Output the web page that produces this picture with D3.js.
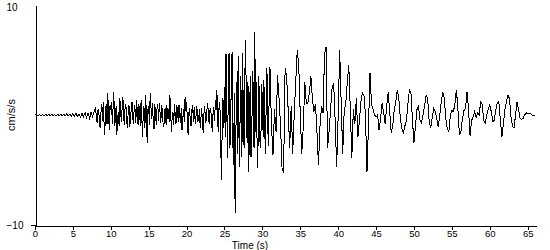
<!DOCTYPE html>
<html>
<head>
	<meta charset="utf-8">
	<title>Accelerogram</title>
	<script src="https://cdn.jsdelivr.net/npm/d3@7"></script>
	<style>
		body {
			margin: 0;
			background: #fff;
			font-family: "Liberation Sans", Arial, sans-serif;
		}
	</style>
</head>
<body>
	<div id="chart"></div>
	<script>

		// data: ground acceleration (cm/s/s), in three windows with their own sample step
		// pre-event noise, 0 - 8 s, every 0.2 s (one row = 1 s)
		const preStart = 0, preStep = 0.2;
		const preEvent = [
			0, 0.02, -0.02, 0.03, -0.03,
			0.02, -0.04, 0.03, -0.02, 0.04,
			-0.03, 0.05, -0.04, 0.03, -0.05,
			0.06, -0.05, 0.08, -0.06, 0.05,
			-0.08, 0.1, -0.07, 0.09, -0.1,
			0.12, -0.1, 0.15, -0.12, 0.1,
			-0.2, 0.18, -0.15, 0.22, -0.25,
			0.2, -0.3, 0.25, -0.15, 0.3
		];
		// strong shaking, 8 - 31 s, every 0.1 s (one row = 1 s)
		const strongStart = 8, strongStep = 0.1;
		const strongMotion = [
			0.7, -0.3, -0.7, 0.4, 0.5, -0.6, -1.2, 0.2, 1.0, -0.5,
			1.2, -0.6, -1.8, 0.3, 1.0, -0.8, 2.0, 0.2, -1.4, 0.9,
			0.5, 1.2, -0.8, 0.6, 2.1, -1.0, -0.5, 0.8, -1.8, -0.4,
			0.3, -1.0, 1.5, 0.2, -0.6, 0.7, 1.6, -0.3, -0.9, 1.0,
			0.8, -0.5, -1.2, 0.4, 0.9, -1.1, -0.4, 0.6, 1.2, -0.3,
			-0.8, 0.9, 0.5, -0.7, 1.4, 0.2, -0.9, 1.0, 0.3, -1.0,
			1.4, -0.4, -2.0, 0.8, 0.6, -1.2, 1.8, 0.0, -2.5, 0.5,
			0.8, -0.9, 2.0, 0.7, -0.4, 1.1, -0.6, -1.3, 1.0, 0.1,
			-0.9, 0.6, 1.0, -0.5, 1.1, 0.2, -0.7, 0.9, 0.4, -0.8,
			-1.1, 0.4, 0.6, -0.9, 0.9, -0.4, 0.5, -0.6, 1.8, 0.3,
			-1.5, -0.2, 0.3, -0.9, 1.0, 0.0, -0.8, 0.9, 0.4, -0.6,
			0.9, 0.0, -0.7, 0.6, -1.4, -0.3, 0.5, -0.6, 1.6, 0.4,
			1.2, -0.5, -1.8, 0.2, 0.6, -0.7, -1.0, 0.5, 0.9, -0.6,
			0.7, -0.3, -0.8, 0.8, 0.4, -0.6, -0.3, 0.5, -1.2, -0.2,
			0.6, -0.8, -1.6, 0.2, 0.8, -0.7, -0.5, 0.6, 1.1, -0.4,
			-0.8, 0.6, 0.5, -0.9, -1.5, 0.3, 0.7, -0.5, 1.4, 0.5,
			2.3, -0.8, -1.5, 1.2, 0.8, -2.5, -5.9, -1.0, 1.5, -1.2,
			2.5, -2.0, 5.5, 1.0, -3.9, 2.0, 5.6, -3.0, -2.0, 3.5,
			5.7, -2.5, -4.5, 2.0, -8.9, -2.0, 3.0, -3.5, 5.4, -1.5,
			-4.7, 3.5, 2.0, -3.8, 5.6, -2.0, -3.0, 4.0, 6.8, -1.0,
			-2.5, 3.0, -5.2, -1.0, 3.5, -3.8, -2.0, 4.0, 2.5, -3.0,
			7.5, -1.5, 3.0, -2.5, -4.8, 3.5, 2.0, -3.0, -2.5, 2.8,
			1.5, -2.0, 3.2, -1.0, -3.5, 1.0, 4.3, -1.0, -2.8, 2.0
		];
		// coda, 31 - 66 s, every 0.2 s (one row = 1 s)
		const codaStart = 31, codaStep = 0.2;
		const coda = [
			4.4, -1.0, -3.6, 0.5, -1.5,
			3.6, 1.5, -1.0, -5.0, -5.2,
			4.3, 3.5, 0.5, -3.0, 0.8,
			-3.5, 0.0, 3.0, 5.9, 4.5,
			0.0, -3.5, -1.0, 3.0, 1.0,
			1.1, 2.0, 3.5, 1.5, 0.3,
			1.0, -1.5, -4.5, -1.0, 0.8,
			0.2, 5.5, 6.2, -3.0, -1.5,
			0.5, 2.5, 2.9, -0.5, -4.7,
			0.0, 5.9, 1.0, -3.5, 0.5,
			1.0, 3.0, 4.5, 0.5, -3.9,
			0.5, -0.8, 1.5, -2.0, -0.5,
			1.2, 2.0, 1.8, 0.0, -5.2,
			-1.0, 3.8, 1.0, 0.5, 0.0,
			-0.2, 0.0, -1.4, -0.3, 1.1,
			0.2, -0.8, 0.8, 2.1, 0.3,
			-1.6, -1.0, 0.5, 1.2, 2.3,
			1.5, -0.3, -1.2, -1.6, -1.0,
			-0.5, 1.0, 2.3, 2.0, -0.5,
			-2.5, -1.0, 0.5, 0.8, -0.5,
			-0.7, 0.0, 0.8, 1.8, 1.5,
			-0.5, -1.2, -0.3, 0.6, 0.3,
			-0.3, -1.1, 0.0, 1.2, 2.1,
			1.5, -0.3, -1.3, -1.5, 0.0,
			0.4, 0.3, 1.0, 2.3, 0.5,
			-1.8, -1.5, -0.3, 0.4, 0.6,
			2.1, 0.5, -1.9, -0.5, -0.2,
			0.3, -0.2, 0.2, 0.0, 1.2,
			1.0, -0.5, -0.7, 0.0, 0.5,
			0.9, 0.3, -0.6, -0.5, 0.5,
			1.1, 1.2, -0.5, -2.0, -0.8,
			0.5, 1.2, 1.8, 1.5, -0.2,
			-1.0, -1.2, 0.0, 1.2, 0.5,
			-0.3, -0.4, -0.3, 0.0, 0.2,
			0.1, 0.1, 0.1, 0.0, 0.0,
			0.0
		];
		const xTicks = [0, 5, 10, 15, 20, 25, 30, 35, 40, 45, 50, 55, 60, 65];
		const yTicks = [-10, 10];
		const xDomain = [0, 66.1];
		const yDomain = [-10, 10];
		const xLabel = "Time (s)";
		const yLabel = "cm/s/s";

		const width = 550;
		const height = 250;
		const marginLeft = 35;
		const marginRight = 14;
		const marginTop = 5;
		const marginBottom = 25;
		const fontFamily = "'Liberation Sans', Arial, sans-serif";

		// build [time, value] pairs
		const toPairs = (values, start, step) => values.map((v, i) => [start + i * step, v]);
		const trace = [
			...toPairs(preEvent, preStart, preStep),
			...toPairs(strongMotion, strongStart, strongStep),
			...toPairs(coda, codaStart, codaStep)
		];

		const x = d3.scaleLinear(xDomain, [marginLeft, width - marginRight]);
		const y = d3.scaleLinear(yDomain, [height - marginBottom, marginTop]);

		const svg = d3.select("#chart")
			.append("svg")
			.attr("width", width)
			.attr("height", height)
			.attr("viewBox", [0, 0, width, height])
			.style("display", "block")
			.style("font-family", fontFamily);

		// trace
		const line = d3.line()
			.x(d => x(d[0]))
			.y(d => y(d[1]));

		svg.append("path")
			.attr("fill", "none")
			.attr("stroke", "#000")
			.attr("stroke-width", 1)
			.attr("stroke-linejoin", "miter")
			.attr("shape-rendering", "crispEdges")
			.attr("d", line(trace));

		// x axis
		svg.append("g")
			.attr("transform", `translate(0,${y(-10) + 0.5})`)
			.call(d3.axisBottom(x).tickValues(xTicks).tickSize(4).tickSizeOuter(0))
			.call(g => g.select(".domain").attr("shape-rendering", "crispEdges"))
			.call(g => g.selectAll(".tick line").attr("shape-rendering", "crispEdges"))
			.call(g => g.selectAll(".tick text")
				.attr("y", 5)
				.style("font-size", "9.5px")
				.style("font-family", fontFamily)
				.attr("fill", "#000"));

		// y axis
		svg.append("g")
			.attr("transform", `translate(${marginLeft + 0.5},0)`)
			.call(d3.axisLeft(y).tickValues(yTicks).tickSize(5).tickSizeOuter(0))
			.call(g => g.select(".domain").attr("shape-rendering", "crispEdges"))
			.call(g => g.selectAll(".tick line")
				.attr("shape-rendering", "crispEdges")
				.attr("display", d => d === 10 ? "none" : null))
			.call(g => g.selectAll(".tick text")
				.attr("x", 6 - marginLeft)
				.attr("dy", d => d === 10 ? "0.5em" : "0.32em")
				.attr("text-anchor", "start")
				.style("font-size", "10px")
				.style("font-family", fontFamily)
				.attr("fill", "#000"));

		// axis labels
		svg.append("text")
			.attr("x", 250)
			.attr("y", 249)
			.attr("text-anchor", "middle")
			.style("font-size", "10px")
			.text(xLabel);

		svg.append("text")
			.attr("transform", `translate(15,${y(0)}) rotate(-90)`)
			.attr("text-anchor", "middle")
			.style("font-size", "11px")
			.text(yLabel);

	</script>
</body>
</html>
